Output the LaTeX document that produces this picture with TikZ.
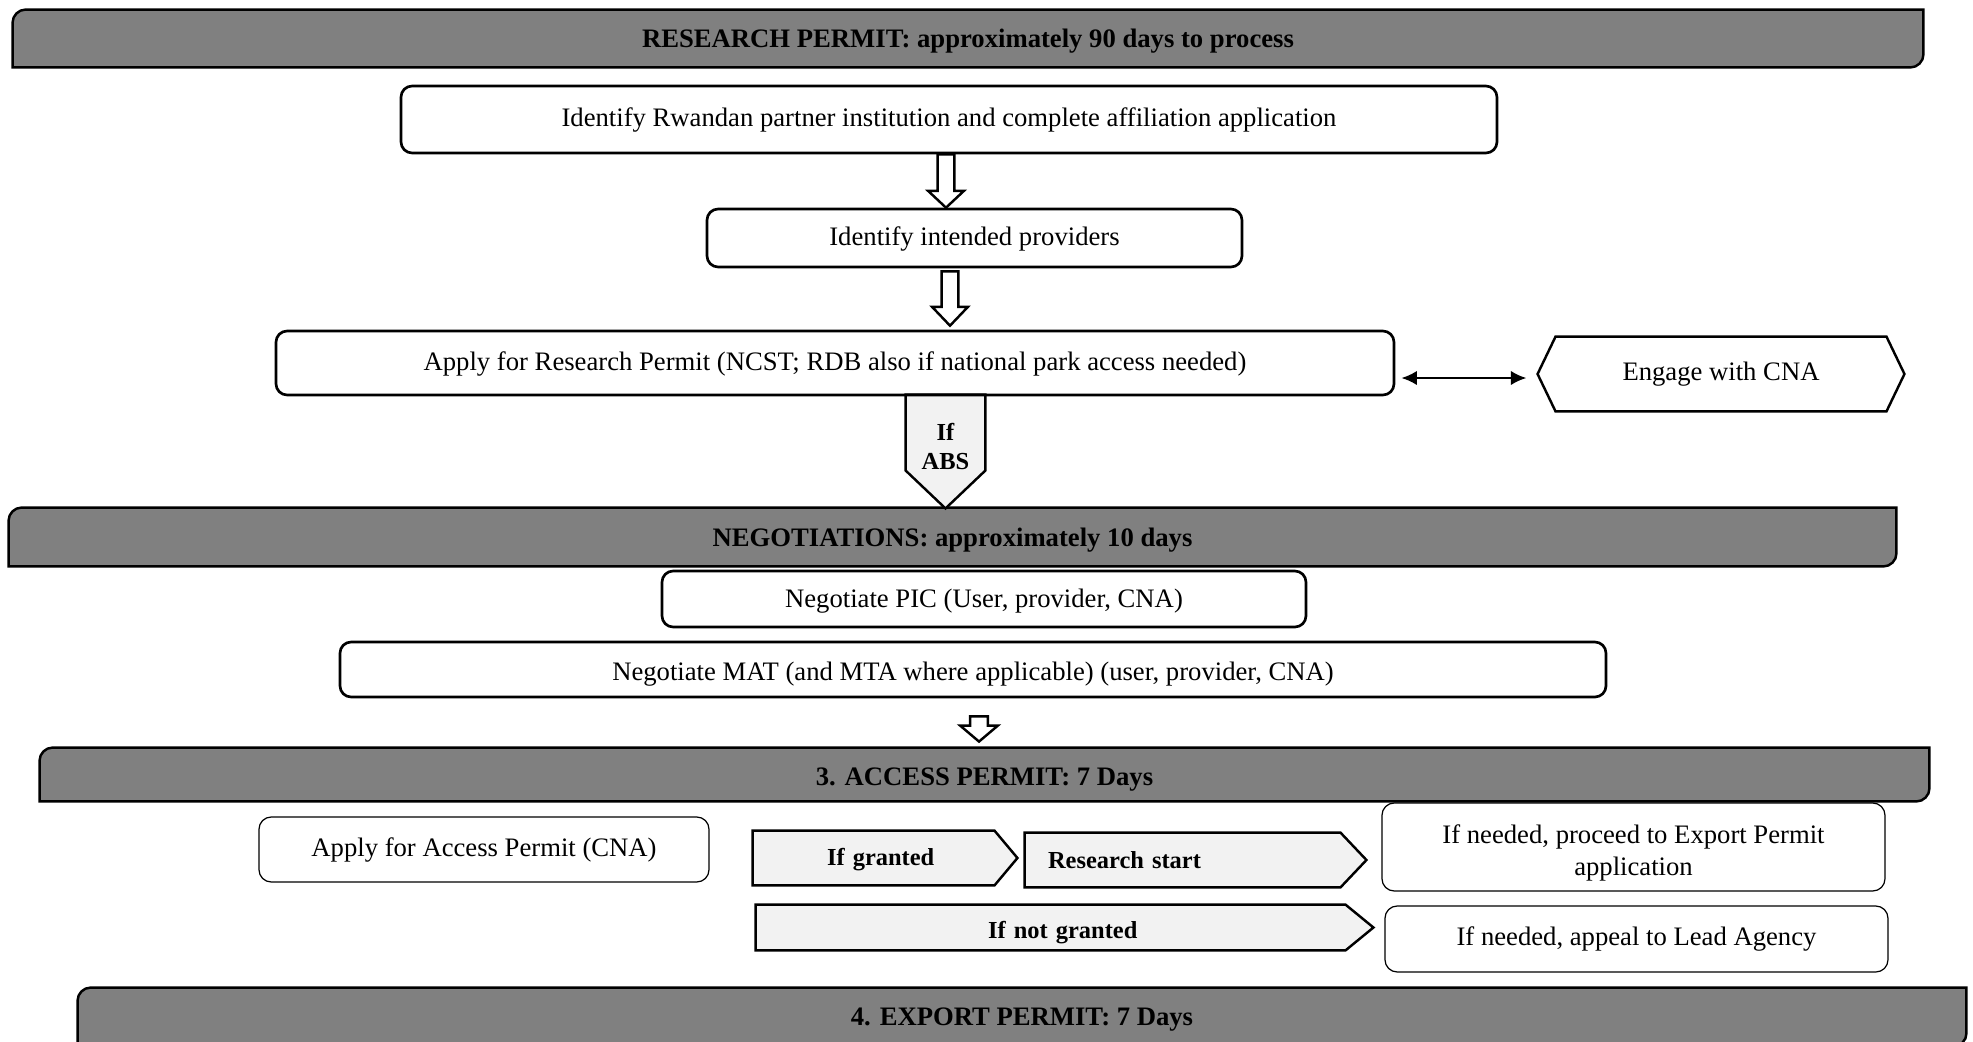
\documentclass[tikz,border=0pt]{standalone}
\usepackage{fontspec}
\setmainfont{Liberation Serif}
\usetikzlibrary{calc,arrows.meta,backgrounds}
\definecolor{hdrgray}{HTML}{808080}
\definecolor{lightfill}{HTML}{F2F2F2}
\tikzset{
  sz/.style 2 args={minimum width=#1*0.45pt, minimum height=#2*0.45pt},
  th/.style={text height=#1, text depth=0pt},
  hdr/.style={inner sep=0pt, font=\fontsize{12}{14.4}\selectfont\bfseries, th=0.77em},
  hdrline/.style={draw=black, line width=1.1pt, fill=hdrgray},
  rbox/.style={draw=black, line width=1.2pt, rounded corners=5pt, inner sep=0pt, align=center},
  tbox/.style={draw=black, line width=0.55pt, rounded corners=5.5pt, inner sep=0pt, align=center},
  plain/.style={inner sep=0pt, align=center},
  small/.style={font=\fontsize{11}{13.2}\selectfont\bfseries},
  shapeline/.style={draw=black, line width=1.1pt, fill=lightfill},
  hexline/.style={draw=black, line width=1.1pt, fill=white},
  harrow/.style={draw=black, line width=1.1pt, fill=white, line join=miter},
  dblarrow/.style={line width=1.1pt, {Latex[length=7pt,width=6.5pt]}-{Latex[length=7pt,width=6.5pt]}},
}
\newcommand\hdroutline[1]{%
  \draw[hdrline] (#1.south west) -- ($(#1.north west)+(0,13)$)
    .. controls ($(#1.north west)+(0,6)$) and ($(#1.north west)+(6,0)$) .. ($(#1.north west)+(13,0)$)
    -- (#1.north east) -- ($(#1.south east)+(0,-13)$)
    .. controls ($(#1.south east)+(0,-6)$) and ($(#1.south east)+(-6,0)$) .. ($(#1.south east)+(-13,0)$) -- cycle;}
\newcommand\rpenta[2]{%
  \draw[shapeline] (#1.north west) -- ($(#1.north east)+(-#2,0)$) -- (#1.east) -- ($(#1.south east)+(-#2,0)$) -- (#1.south west) -- cycle;}
\newcommand\dpenta[2]{%
  \draw[shapeline] (#1.north west) -- ($(#1.south west)+(0,-#2)$) -- (#1.south) -- ($(#1.south east)+(0,-#2)$) -- (#1.north east) -- cycle;}
\newcommand\hexoutline[2]{%
  \draw[hexline] (#1.west) -- ($(#1.north west)+(#2,0)$) -- ($(#1.north east)+(-#2,0)$) -- (#1.east) -- ($(#1.south east)+(-#2,0)$) -- ($(#1.south west)+(#2,0)$) -- cycle;}
\newcommand\hollowarrow[5]{%
  \draw[harrow] let \p1=#1, \p2=#2 in
    (\x1-#3,\y1) -- (\x1-#3,\y2+#5) -- (\x1-#4,\y2+#5) -- (\x1,\y2) -- (\x1+#4,\y2+#5) -- (\x1+#3,\y2+#5) -- (\x1+#3,\y1) -- cycle;}

\begin{document}
\begin{tikzpicture}[x=0.45pt, y=-0.45pt, font=\fontsize{12}{14.4}\selectfont]
\useasboundingbox (0,0) rectangle (1973,1041);

% headers and boxes
\node[hdr, sz={1910}{57}] (h1) at (968,38.5) {RESEARCH PERMIT: approximately 90 days to process};
\node[rbox, sz={1096}{67}] (b1) at (949,119.5) {Identify Rwandan partner institution and complete affiliation application};
\node[rbox, sz={535}{58}, th=0.65em] (b2) at (974.5,238) {Identify intended providers};
\node[rbox, sz={1118}{64}, th=0.65em] (b3) at (835,363) {Apply for Research Permit (NCST; RDB also if national park access needed)};
\node[plain, sz={366}{74}] (cna) at (1721,374) {Engage with CNA};
\node[plain, small, sz={79}{113}, th=16.2pt] (abs) at (945.5,451.5) {If\\ABS};
\node[hdr, sz={1887}{58}, th=0.85em] (h2) at (952.5,537) {NEGOTIATIONS: approximately 10 days};
\node[rbox, sz={644}{56}, th=0.75em] (pic) at (984,599) {Negotiate PIC (User, provider, CNA)};
\node[rbox, sz={1266}{55}, th=1.03em] (mat) at (973,669.5) {Negotiate MAT (and MTA where applicable) (user, provider, CNA)};
\node[hdr, sz={1889}{53}, th=1.03em] (h3) at (984.5,774.5) {3. ACCESS PERMIT: 7 Days};
\node[tbox, sz={450}{65}] (acc) at (484,849.5) {Apply for Access Permit (CNA)};
\node[plain, small, sz={264}{54}, th=0.66em, align=left, text width=52.2pt, inner xsep=33.3pt] (grant) at (885,858) {If granted};
\node[plain, small, sz={341}{54}, align=left, text width=132.75pt, inner xsep=10.35pt] (start) at (1195.5,860) {Research start};
\node[plain, small, sz={617}{45}, th=0.96em, align=left, text width=68.85pt, inner xsep=104.4pt] (nogrant) at (1064.5,927.5) {If not granted};
\node[tbox, sz={503}{88}, th=25.3pt] (exp) at (1633.5,847) {If needed, proceed to Export Permit\\application};
\node[tbox, sz={503}{66}] (app) at (1636.5,939) {If needed, appeal to Lead Agency};
\node[hdr, sz={1888}{58}, th=0.75em] (h4) at (1022,1017) {4. EXPORT PERMIT: 7 Days};

% connectors
\coordinate (ax1) at (946,0);
\coordinate (ax2) at (950,0);
\coordinate (ax3) at (979,0);
\coordinate (dy) at (0,378);
\hollowarrow{(b1.south -| ax1)}{(b2.north -| ax1)}{3.8pt}{8.1pt}{7.6pt}
\hollowarrow{($(b2.south -| ax2)+(0,3)$)}{($(b3.north -| ax2)+(0,-4)$)}{3.8pt}{8.1pt}{8.5pt}
\coordinate (a3s) at ($(mat.south -| ax3)+(0,18)$);
\coordinate (a3e) at ($(h3.north -| ax3)+(0,-6)$);
\hollowarrow{(a3s)}{(a3e)}{4pt}{8.5pt}{7.2pt}
\draw[dblarrow, shorten <=2.7pt, shorten >=5pt] (b3.east |- dy) -- (cna.west |- dy);

\begin{scope}[on background layer]
  \fill[white] (0,0) rectangle (1973,1041);
  \hdroutline{h1}
  \hdroutline{h2}
  \hdroutline{h3}
  \hdroutline{h4}
  \hexoutline{cna}{18}
  \dpenta{abs}{38}
  \rpenta{grant}{23}
  \rpenta{start}{26}
  \rpenta{nogrant}{28}
\end{scope}
\end{tikzpicture}
\end{document}
